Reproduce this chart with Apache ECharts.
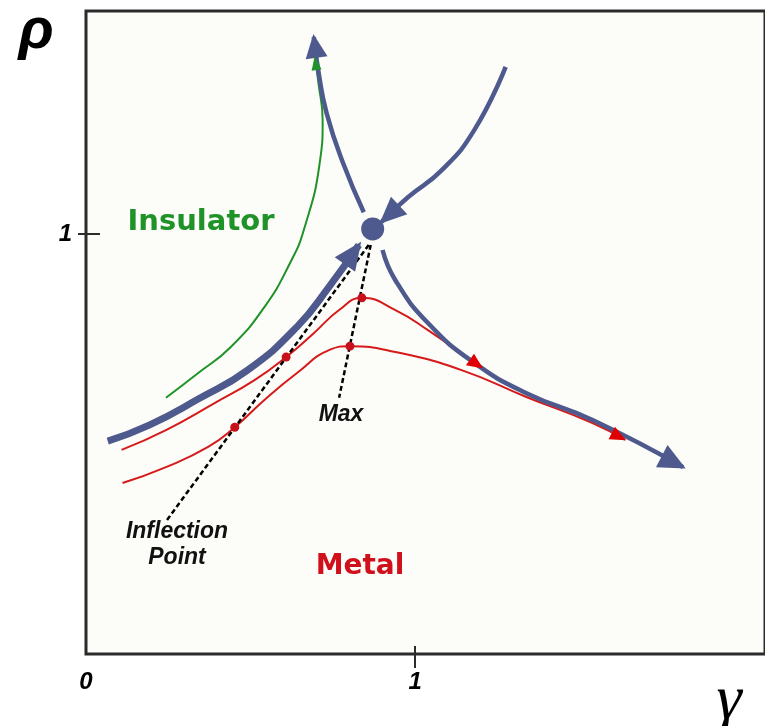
<!DOCTYPE html>
<html><head><meta charset="utf-8">
<script src="https://cdn.jsdelivr.net/npm/echarts@6/dist/echarts.min.js"></script>
<style>html,body{margin:0;padding:0;background:#fff}#c{width:765px;height:726px}</style>
</head><body><div id="c"></div><script>
// axis ticks / labels (gamma, rho units)
const xTickLabels = [0, 1];
const xTicks = [1];
const yTickLabels = [1];
const yTicks = [1];

// blue separatrix flowing into the fixed point (thick)
const blueIn = [[0.066,0.507],[0.192,0.545],[0.341,0.607],[0.491,0.676],[0.641,0.779],[0.740,0.876],[0.829,0.974]];
// blue branch leaving upward (insulator side)
const blueUp = [[0.844,1.052],[0.781,1.169],[0.731,1.288],[0.707,1.383],[0.692,1.469]];
// blue branch coming from the top right into the fixed point
const blueTop = [[1.275,1.398],[1.180,1.248],[1.081,1.152],[0.979,1.088],[0.898,1.029]];
// blue branch leaving downward (metal side)
const blueDown = [[0.901,0.962],[0.940,0.890],[1.039,0.788],[1.180,0.693],[1.338,0.621],[1.539,0.557],[1.814,0.445]];
// green insulator trajectory
const greenLine = [[0.243,0.610],[0.341,0.669],[0.440,0.731],[0.542,0.826],[0.620,0.931],[0.662,1.010],[0.710,1.169],[0.719,1.271],[0.707,1.355],[0.695,1.421]];
// red metallic trajectories
const redUpper = [[0.108,0.486],[0.243,0.533],[0.392,0.598],[0.512,0.652],[0.608,0.707],[0.692,0.764],[0.769,0.819],[0.838,0.848],[0.940,0.819],[1.039,0.771],[1.204,0.681]];
const redLower = [[0.111,0.407],[0.243,0.445],[0.371,0.493],[0.452,0.540],[0.542,0.605],[0.641,0.669],[0.740,0.724],[0.802,0.733],[0.940,0.719],[1.141,0.676],[1.338,0.612],[1.539,0.550],[1.638,0.510]];
// marked points: inflection points and maxima
const redDots = [[0.608,0.707],[0.838,0.848],[0.452,0.540],[0.802,0.733]];
// fixed point
const fixedPoint = [[0.871,1.012]];
// dashed guide lines
const inflectionGuide = [[0.859,0.974],[0.246,0.319]];
const maxGuide = [[0.865,0.974],[0.769,0.610]];

const BLUE = '#4e5a8e', RED = '#d61a1a', GREEN = '#1f9228';

const chart = echarts.init(document.getElementById('c'), null, {renderer: 'canvas'});

function lineSeries(data, color, width, extra) {
  return Object.assign({
    type: 'line', data: data, smooth: true, symbol: 'none', silent: true,
    lineStyle: {color: color, width: width, cap: 'butt'}, z: 2
  }, extra || {});
}

const baseOption = {
  animation: false,
  backgroundColor: '#ffffff',
  grid: {left: 86, right: -10, top: 11, bottom: 72, show: true,
         borderColor: '#2b2b2b', borderWidth: 3, backgroundColor: '#fcfcf8'},
  xAxis: [
    {type: 'value', min: 0, max: 2.063, position: 'bottom',
     axisLine: {show: false}, splitLine: {show: false},
     axisTick: {show: true, customValues: xTicks, length: 14, inside: false, lineStyle: {color: '#2b2b2b', width: 2}},
     axisLabel: {show: true, customValues: xTickLabels, margin: 16, color: '#000',
       fontFamily: 'Liberation Sans', fontWeight: 'bold', fontStyle: 'italic', fontSize: 24}},
    {type: 'value', min: 0, max: 2.063, position: 'bottom', offset: 0,
     axisLine: {show: false}, splitLine: {show: false}, axisLabel: {show: false},
     axisTick: {show: true, customValues: xTicks, length: 8, inside: true, lineStyle: {color: '#2b2b2b', width: 2}}}
  ],
  yAxis: [
    {type: 'value', min: 0, max: 1.531, position: 'left',
     axisLine: {show: false}, splitLine: {show: false},
     axisTick: {show: true, customValues: yTicks, length: 8, inside: false, lineStyle: {color: '#2b2b2b', width: 2}},
     axisLabel: {show: true, customValues: yTickLabels, margin: 14, color: '#000',
       fontFamily: 'Liberation Sans', fontWeight: 'bold', fontStyle: 'italic', fontSize: 24}},
    {type: 'value', min: 0, max: 1.531, position: 'left', offset: 0,
     axisLine: {show: false}, splitLine: {show: false}, axisLabel: {show: false},
     axisTick: {show: true, customValues: yTicks, length: 14, inside: true, lineStyle: {color: '#2b2b2b', width: 2}}}
  ],
  series: [
    lineSeries(greenLine, GREEN, 2),
    lineSeries(redUpper, RED, 2),
    lineSeries(redLower, RED, 2),
    lineSeries(blueDown, BLUE, 4.5),
    lineSeries(blueUp, BLUE, 4.5),
    lineSeries(blueTop, BLUE, 4.5),
    lineSeries(blueIn, BLUE, 7),
    {type: 'line', data: inflectionGuide, symbol: 'none', silent: true, z: 3,
     lineStyle: {color: '#000', width: 2.5, type: [5, 3]}},
    {type: 'line', data: maxGuide, symbol: 'none', silent: true, z: 3,
     lineStyle: {color: '#000', width: 2.5, type: [5, 3]}},
    {type: 'scatter', data: redDots, symbol: 'circle', symbolSize: 9, silent: true, z: 4,
     itemStyle: {color: '#c8101a', opacity: 1}},
    {type: 'scatter', data: fixedPoint, symbol: 'circle', symbolSize: 23, silent: true, z: 4,
     itemStyle: {color: BLUE, opacity: 1}}
  ],
  graphic: [
    {type: 'text', x: 201, y: 222, style: {text: 'Insulator', fill: GREEN, font: 'bold 29px "DejaVu Sans"', textAlign: 'center', textVerticalAlign: 'middle'}},
    {type: 'text', x: 360, y: 567, style: {text: 'Metal', fill: '#d0101a', font: 'bold 28px "DejaVu Sans"', textAlign: 'center', textVerticalAlign: 'middle'}},
    {type: 'text', x: 341, y: 415, style: {text: 'Max', fill: '#111', font: 'italic bold 23px "Liberation Sans"', textAlign: 'center', textVerticalAlign: 'middle'}},
    {type: 'text', x: 177, y: 545, style: {text: 'Inflection\nPoint', fill: '#111', font: 'italic bold 23px "Liberation Sans"', lineHeight: 26, textAlign: 'center', textVerticalAlign: 'middle'}},
    {type: 'text', x: 36, y: 32, style: {text: 'ρ', fill: '#000', font: 'italic bold 58px "Liberation Sans"', textAlign: 'center', textVerticalAlign: 'middle'}},
    {type: 'text', x: 729, y: 701, style: {text: 'γ', fill: '#000', font: 'italic 64px "Liberation Serif"', textAlign: 'center', textVerticalAlign: 'middle'}}
  ]
};
chart.setOption(baseOption);

// arrowheads oriented along the end of each curve; tip pushed slightly past the
// line end so the stroke is fully covered
function arrow(curve, len, wid, push) {
  const n = curve.length;
  const tip = chart.convertToPixel({gridIndex: 0}, curve[n - 1]);
  const prev = chart.convertToPixel({gridIndex: 0}, curve[n - 2]);
  const dx = tip[0] - prev[0], dy = tip[1] - prev[1];
  const L = Math.hypot(dx, dy);
  const ux = dx / L, uy = dy / L;
  const back = len / 2 - push;
  const c = [tip[0] - ux * back, tip[1] - uy * back];
  const d = chart.convertFromPixel({gridIndex: 0}, c);
  return {value: d, symbolRotate: Math.atan2(-ux, -uy) * 180 / Math.PI, symbolSize: [wid, len]};
}
const blueArrows = [arrow(blueIn, 28, 25, 4), arrow(blueUp, 24, 22, 3), arrow(blueTop, 27, 24, 3), arrow(blueDown, 27, 25, 3)];
const redArrows = [arrow(redUpper, 16, 14, 1), arrow(redLower, 16, 14, 1)];
const greenArrows = [arrow(greenLine, 14, 10, 1)];
const series = baseOption.series.concat([
  {type: 'scatter', data: blueArrows, symbol: 'triangle', silent: true, z: 5, itemStyle: {color: BLUE, opacity: 1}},
  {type: 'scatter', data: redArrows, symbol: 'triangle', silent: true, z: 5, itemStyle: {color: '#e00000', opacity: 1}},
  {type: 'scatter', data: greenArrows, symbol: 'triangle', silent: true, z: 5, itemStyle: {color: GREEN, opacity: 1}}
]);
chart.setOption({series: series});
</script></body></html>
